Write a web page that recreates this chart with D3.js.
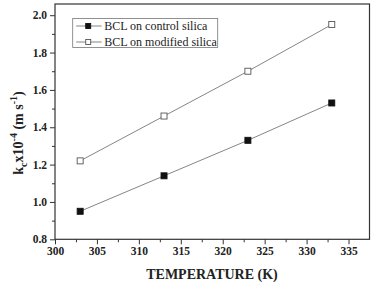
<!DOCTYPE html>
<html>
<head>
<meta charset="utf-8">
<script src="https://cdn.jsdelivr.net/npm/d3@7"></script>
<style>
  body { margin: 0; background: #fff; }
  text { font-family: "Liberation Serif", "Times New Roman", serif; fill: #222; }
</style>
</head>
<body>
<div id="chart"></div>
<script>
var w = 374;
var h = 288;

// data
var temperature = [303, 313, 323, 333];
var controlSilica = [0.95, 1.14, 1.33, 1.53];
var modifiedSilica = [1.22, 1.46, 1.70, 1.95];
var seriesNames = ["BCL on control silica", "BCL on modified silica"];
var xTicks = [300, 305, 310, 315, 320, 325, 330, 335];
var yTicks = [0.8, 1.0, 1.2, 1.4, 1.6, 1.8, 2.0];

var plotLeft = 55, plotRight = 369.5, plotTop = 4, plotBottom = 239.3;

var svg = d3.select("#chart")
            .append("svg")
            .attr("width", w)
            .attr("height", h);

var x = d3.scaleLinear().domain([300, 337.5]).range([plotLeft, plotRight]);
var y = d3.scaleLinear().domain([0.8, 2.06]).range([plotBottom, plotTop]);

// frame
svg.append("rect")
    .attr("x", plotLeft).attr("y", plotTop)
    .attr("width", plotRight - plotLeft).attr("height", plotBottom - plotTop)
    .attr("fill", "none").attr("stroke", "#333").attr("stroke-width", 1.2);

// minor ticks
var xMinor = d3.range(302.5, 337.5, 5);
var yMinor = d3.range(0.9, 2.05, 0.2);

svg.append("g")
    .attr("transform", "translate(0," + plotBottom + ")")
    .call(d3.axisBottom(x).tickValues(xMinor).tickSize(3).tickFormat(""))
    .call(function(g) { g.select(".domain").remove(); });

svg.append("g")
    .attr("transform", "translate(" + plotLeft + ",0)")
    .call(d3.axisLeft(y).tickValues(yMinor).tickSize(3).tickFormat(""))
    .call(function(g) { g.select(".domain").remove(); });

// major axes
var xAxis = svg.append("g")
    .attr("transform", "translate(0," + plotBottom + ")")
    .call(d3.axisBottom(x).tickValues(xTicks).tickSize(5).tickPadding(3).tickFormat(d3.format("d")));

var yAxis = svg.append("g")
    .attr("transform", "translate(" + plotLeft + ",0)")
    .call(d3.axisLeft(y).tickValues(yTicks).tickSize(5).tickPadding(3).tickFormat(d3.format(".1f")));

[xAxis, yAxis].forEach(function(g) {
    g.select(".domain").remove();
    g.attr("font-family", "Liberation Serif").attr("font-size", 11.5).attr("font-weight", "bold");
    g.selectAll("text").attr("fill", "#222");
});
svg.selectAll(".tick line").attr("stroke", "#333");

// lines
var line = d3.line()
    .x(function(d, i) { return x(temperature[i]); })
    .y(function(d) { return y(d); });

[controlSilica, modifiedSilica].forEach(function(s, k) {
    svg.append("path")
        .attr("d", line(s))
        .attr("fill", "none")
        .attr("stroke", "#777")
        .attr("stroke-width", 0.9);

    svg.selectAll("rect.m" + k)
        .data(s)
        .enter()
        .append("rect")
        .attr("class", "m" + k)
        .attr("x", function(d, i) { return x(temperature[i]) - 3; })
        .attr("y", function(d) { return y(d) - 3; })
        .attr("width", 6)
        .attr("height", 6)
        .attr("fill", k == 0 ? "#111" : "#fff")
        .attr("stroke", k == 0 ? "#111" : "#555")
        .attr("stroke-width", 0.9);
});

// legend
var lg = svg.append("g").attr("transform", "translate(72.7,18.5)");
lg.append("rect")
    .attr("width", 145).attr("height", 29)
    .attr("fill", "#fff").attr("stroke", "#777").attr("stroke-width", 0.8);

seriesNames.forEach(function(name, k) {
    var cy = 7.5 + k * 16;
    lg.append("line")
        .attr("x1", 3.5).attr("x2", 29)
        .attr("y1", cy).attr("y2", cy)
        .attr("stroke", "#777").attr("stroke-width", 0.9);
    lg.append("rect")
        .attr("x", 13).attr("y", cy - 2.5).attr("width", 5).attr("height", 5)
        .attr("fill", k == 0 ? "#111" : "#fff")
        .attr("stroke", k == 0 ? "#111" : "#555").attr("stroke-width", 0.9);
    lg.append("text")
        .attr("x", 31.5).attr("y", cy + 4.3)
        .style("font-size", "12px")
        .text(name);
});

// axis titles
svg.append("text")
    .attr("x", 212).attr("y", 279)
    .attr("text-anchor", "middle")
    .style("font-size", "14px")
    .style("font-weight", "bold")
    .text("TEMPERATURE (K)");

var yt = svg.append("text")
    .attr("transform", "translate(23,133) rotate(-90)")
    .attr("text-anchor", "middle")
    .style("font-size", "14px")
    .style("font-weight", "bold");
yt.append("tspan").text("k");
yt.append("tspan").attr("dy", 4).style("font-size", "10px").text("c");
yt.append("tspan").attr("dy", -4).text("x10");
yt.append("tspan").attr("dy", -6).style("font-size", "10px").text("-4");
yt.append("tspan").attr("dy", 6).text(" (m s");
yt.append("tspan").attr("dy", -6).style("font-size", "10px").text("-1");
yt.append("tspan").attr("dy", 6).text(")");
</script>
</body>
</html>
